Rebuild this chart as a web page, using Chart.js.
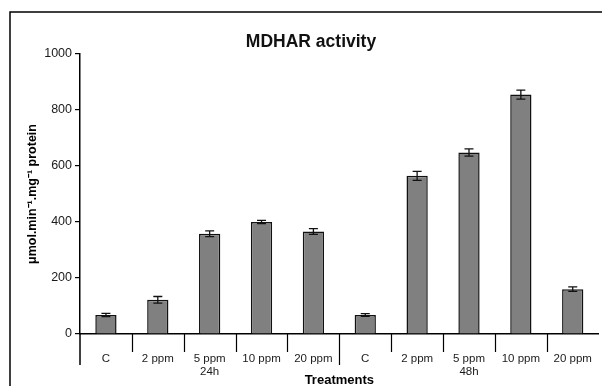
<!DOCTYPE html>
<html><head><meta charset="utf-8">
<script src="https://cdn.jsdelivr.net/npm/chart.js@4"></script>
<style>html,body{margin:0;padding:0;background:#fff}#c{display:block}</style>
</head><body>
<div style="width:602px;height:386px"><canvas id="c" width="602" height="386"></canvas></div>
<script>
const chartTitle = 'MDHAR activity';
const xAxisTitle = 'Treatments';
const yAxisTitle = 'μmol.min⁻¹.mg⁻¹ protein';
const categories = [['C'], ['2 ppm'], ['5 ppm', '24h'], ['10 ppm'], ['20 ppm'], ['C'], ['2 ppm'], ['5 ppm', '48h'], ['10 ppm'], ['20 ppm']];
const means = [68, 122, 358, 400, 366, 68, 565, 648, 855, 160];
const errors = [6, 12, 10, 6, 10, 5, 16, 13, 16, 8];
const yTicks = [0, 200, 400, 600, 800, 1000];
const groupBoundaryAfter = 4;

const FONT = "'Liberation Sans', Arial, sans-serif";

const decor = {
  id: 'decor',
  beforeDraw(chart) {
    const ctx = chart.ctx;
    ctx.save();
    ctx.fillStyle = '#fff';
    ctx.fillRect(0, 0, chart.width, chart.height);
    ctx.strokeStyle = '#000';
    ctx.lineWidth = 1.5;
    ctx.beginPath();
    ctx.moveTo(10, chart.height);
    ctx.lineTo(10, 12);
    ctx.lineTo(chart.width, 12);
    ctx.stroke();
    ctx.restore();
  },
  afterDatasetsDraw(chart) {
    const ctx = chart.ctx;
    const xs = chart.scales.x, ys = chart.scales.y;
    const area = chart.chartArea;
    const meta = chart.getDatasetMeta(0);
    ctx.save();
    ctx.strokeStyle = '#111';
    ctx.lineWidth = 1.3;
    meta.data.forEach((el, i) => {
      const x = el.x;
      const t = ys.getPixelForValue(means[i] + errors[i]);
      const b = ys.getPixelForValue(means[i] - errors[i]);
      ctx.beginPath();
      ctx.moveTo(x, t); ctx.lineTo(x, b);
      ctx.moveTo(x - 4.5, t); ctx.lineTo(x + 4.5, t);
      ctx.moveTo(x - 4.5, b); ctx.lineTo(x + 4.5, b);
      ctx.stroke();
    });
    ctx.strokeStyle = '#000';
    ctx.lineWidth = 1.2;
    for (let i = 1; i < categories.length; i++) {
      const x = Math.round((xs.getPixelForValue(i - 1) + xs.getPixelForValue(i)) / 2) + 0.5;
      const len = (i - 1 === groupBoundaryAfter) ? 31 : 18;
      ctx.beginPath();
      ctx.moveTo(x, area.bottom);
      ctx.lineTo(x, area.bottom + len);
      ctx.stroke();
    }
    ctx.lineWidth = 1.5;
    ctx.beginPath();
    ctx.moveTo(area.left, area.bottom);
    ctx.lineTo(area.left, area.bottom + 31);
    ctx.stroke();
    ctx.fillStyle = '#111';
    ctx.font = 'bold 17.5px ' + FONT;
    ctx.textAlign = 'center';
    ctx.textBaseline = 'alphabetic';
    ctx.fillText(chartTitle, 311, 47);
    ctx.restore();
  }
};

new Chart(document.getElementById('c'), {
  type: 'bar',
  data: {
    labels: categories,
    datasets: [{
      data: means,
      backgroundColor: '#808080',
      borderColor: '#111',
      borderWidth: 1.5,
      categoryPercentage: 1,
      barPercentage: 0.41
    }]
  },
  options: {
    responsive: false,
    animation: false,
    devicePixelRatio: 1,
    layout: { padding: { top: 54, right: 2, left: 0, bottom: 0 } },
    plugins: { legend: { display: false }, tooltip: { enabled: false }, title: { display: false } },
    scales: {
      x: {
        offset: true,
        grid: { display: false },
        border: { display: true, color: '#000', width: 1.5 },
        ticks: {
          autoSkip: false, maxRotation: 0, color: '#1a1a1a', padding: 10,
          font: { family: FONT, size: 11.5, lineHeight: 1.15 }
        },
        title: {
          display: true, text: xAxisTitle, color: '#000',
          font: { family: FONT, size: 13, weight: 'bold' },
          padding: { top: 0, bottom: -2 }
        },
        afterFit(s) { s.height = 52; }
      },
      y: {
        min: 0, max: 1000,
        afterBuildTicks(s) { s.ticks = yTicks.map(v => ({ value: v })); },
        grid: { display: true, drawOnChartArea: false, drawTicks: true, tickLength: 5, color: '#000', lineWidth: 1.2 },
        border: { display: true, color: '#000', width: 1.5 },
        ticks: { color: '#1a1a1a', padding: 3, font: { family: FONT, size: 12.5 }, callback: v => String(v) },
        title: {
          display: true, text: yAxisTitle, color: '#000',
          font: { family: FONT, size: 12.5, weight: 'bold' },
          padding: { top: 25, bottom: 0 }
        },
        afterFit(s) { s.width = 80; }
      }
    }
  },
  plugins: [decor]
});
</script>
</body></html>
